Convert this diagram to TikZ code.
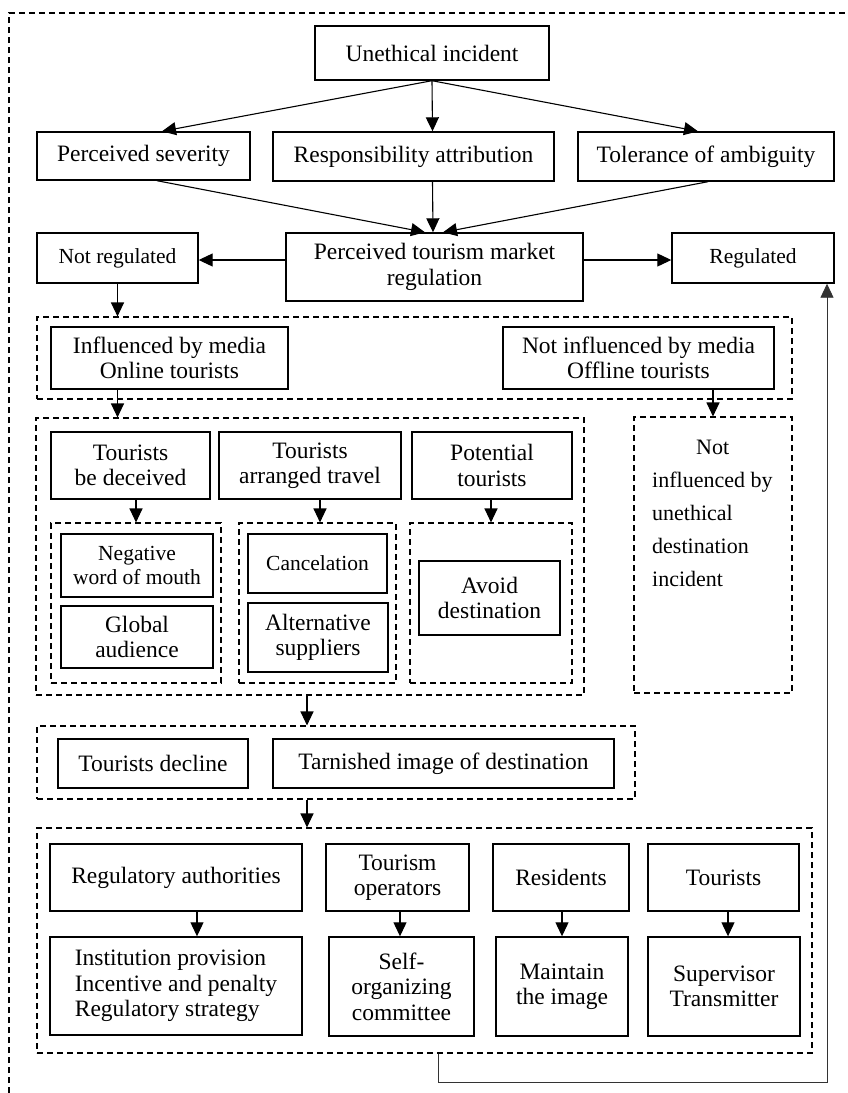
\documentclass[tikz,border=0pt]{standalone}
\usepackage{fontspec}
\setmainfont{Liberation Serif}
\usetikzlibrary{arrows.meta}
\tikzset{
  box/.style={draw, line width=1.4pt, inner sep=0pt, align=center, font=\fontsize{23.5}{25.5}\selectfont},
  smallbox/.style={box, font=\fontsize{21.5}{24}\selectfont},
  dbox/.style={draw, line width=1.1pt, dash pattern=on 6pt off 4pt, inner sep=0pt},
  arr/.style={line width=1.1pt, -{Triangle[length=14pt,width=13pt]}},
}
\begin{document}
\begin{tikzpicture}[x=1pt,y=-1pt]
\useasboundingbox (0,0) rectangle (848,1093);
% outer dashed frame
\draw[line width=1.1pt, dash pattern=on 6pt off 4pt] (9,1093) -- (9,13) -- (848,13);

% top
\node[box, minimum width=234, minimum height=54] (ue) at (432,53) {Unethical incident};
\node[box, minimum width=213, minimum height=48] (ps) at (143.5,156) {Perceived severity};
\node[box, minimum width=281, minimum height=49] (ra) at (413.5,156.5) {Responsibility attribution};
\node[box, minimum width=256, minimum height=49] (ta) at (706,156.5) {Tolerance of ambiguity};
\draw[arr] (ue.south) -- ([xshift=18.5]ps.north);
\draw[arr] (ue.south) -- ([xshift=19]ra.north);
\draw[arr] (ue.south) -- ([xshift=-8]ta.north);

\node[box, minimum width=297, minimum height=68] (pt) at (434.5,267) {Perceived tourism market\\regulation};
\node[smallbox, minimum width=161, minimum height=50] (nr) at (117.5,258) {Not regulated};
\node[smallbox, minimum width=162, minimum height=50] (rg) at (753,258) {Regulated};
\draw[arr] ([xshift=13.5]ps.south) -- ([xshift=-9.5]pt.north);
\draw[arr] ([xshift=19]ra.south) -- ([xshift=-1.5]pt.north);
\draw[arr] ([xshift=2]ta.south) -- ([xshift=8.5]pt.north);
\draw[arr] ([yshift=7]pt.west) -- ([yshift=7]pt.west -| nr.east);
\draw[arr] ([yshift=7]pt.east) -- ([yshift=7]pt.east -| rg.west);

% media row
\node[dbox, minimum width=755, minimum height=82] (d1) at (414.5,358) {};
\node[box, minimum width=237, minimum height=62] (im) at (169.5,358) {Influenced by media\\Online tourists};
\node[box, minimum width=271, minimum height=62] (ni) at (638.5,358) {Not influenced by media\\Offline tourists};
\draw[arr] (nr.south) -- (nr.south |- d1.north);

% effects block
\node[dbox, minimum width=548, minimum height=277] (d2) at (310,556.5) {};
\node[dbox, minimum width=158, minimum height=276] (d5) at (713,555) {};
\draw[arr] (im.south -| nr.south) -- (nr.south |- d2.north);
\draw[arr] (ni.south -| d5.north) -- (d5.north);
\node[align=left, anchor=west, inner sep=0pt, font=\fontsize{22}{33}\selectfont] (nt) at (652,513) {\hspace*{44pt}Not\\influenced by\\unethical\\destination\\incident};

\node[box, minimum width=159, minimum height=67] (tbd) at (130.5,465.5) {Tourists\\be deceived};
\node[box, minimum width=182, minimum height=67] (tat) at (310,465.5) {Tourists\\arranged travel};
\node[box, minimum width=160, minimum height=67] (pot) at (492,465.5) {Potential\\tourists};
\node[dbox, minimum width=170, minimum height=160] (s1) at (136,603) {};
\node[dbox, minimum width=157, minimum height=160] (s2) at (317.5,603) {};
\node[dbox, minimum width=162, minimum height=160] (s3) at (491,603) {};
\draw[arr] (s1.north |- tbd.south) -- (s1.north);
\draw[arr] ([xshift=2.5]s2.north |- tat.south) -- ([xshift=2.5]s2.north);
\draw[arr] (s3.north |- pot.south) -- (s3.north);
\node[smallbox, minimum width=152, minimum height=63] (nw) at (137,565.5) {Negative\\word of mouth};
\node[box, minimum width=152, minimum height=62] (ga) at (137,637) {Global\\audience};
\node[smallbox, minimum width=139, minimum height=59] (can) at (317.5,563.5) {Cancelation};
\node[box, minimum width=140, minimum height=69] (alt) at (318,637.5) {Alternative\\suppliers};
\node[box, minimum width=141, minimum height=74] (av) at (489.5,598) {Avoid\\destination};

% decline
\node[dbox, minimum width=598, minimum height=73] (d3) at (336,762.5) {};
\node[box, minimum width=190, minimum height=49] (td) at (153,763.5) {Tourists decline};
\node[box, minimum width=341, minimum height=49] (tid) at (443.5,763.5) {Tarnished image of destination};
\draw[arr] ([xshift=-3]d2.south) -- ([xshift=-3]d2.south |- d3.north);

% stakeholders
\node[dbox, minimum width=775, minimum height=225] (d4) at (424.5,940.5) {};
\draw[arr] ([xshift=-3]d2.south |- d3.south) -- ([xshift=-3]d2.south |- d4.north);
\node[box, minimum width=252, minimum height=67] (rau) at (176,877.5) {Regulatory authorities};
\node[box, minimum width=143, minimum height=67] (top) at (397.5,877.5) {Tourism\\operators};
\node[box, minimum width=136, minimum height=67] (res) at (561,877.5) {Residents};
\node[box, minimum width=151, minimum height=67] (tou) at (723.5,877.5) {Tourists};
\node[box, align=left, minimum width=252, minimum height=98] (ip) at (176,986) {Institution provision\\Incentive and penalty\\Regulatory strategy};
\node[box, minimum width=145, minimum height=99] (so) at (401.5,986.5) {Self-\\organizing\\committee};
\node[box, minimum width=132, minimum height=99] (mi) at (562,986.5) {Maintain\\the image};
\node[box, minimum width=152, minimum height=99] (sv) at (724,986.5) {Supervisor\\Transmitter};
\draw[arr] ([xshift=21]rau.south) -- ([xshift=21]ip.north);
\draw[arr] ([xshift=-1.5]so.north |- top.south) -- ([xshift=-1.5]so.north);
\draw[arr] (mi.north |- res.south) -- (mi.north);
\draw[arr] ([xshift=4]sv.north |- tou.south) -- ([xshift=4]sv.north);

% feedback loop
\coordinate (fb1) at (438,1082);
\coordinate (fb2) at (827,1082);
\draw[line width=0.9pt, black!80, -{Triangle[length=14pt,width=13pt]}] (d4.south -| fb1) -- (fb1) -- (fb2) -- (fb2 |- rg.south);
\end{tikzpicture}
\end{document}
